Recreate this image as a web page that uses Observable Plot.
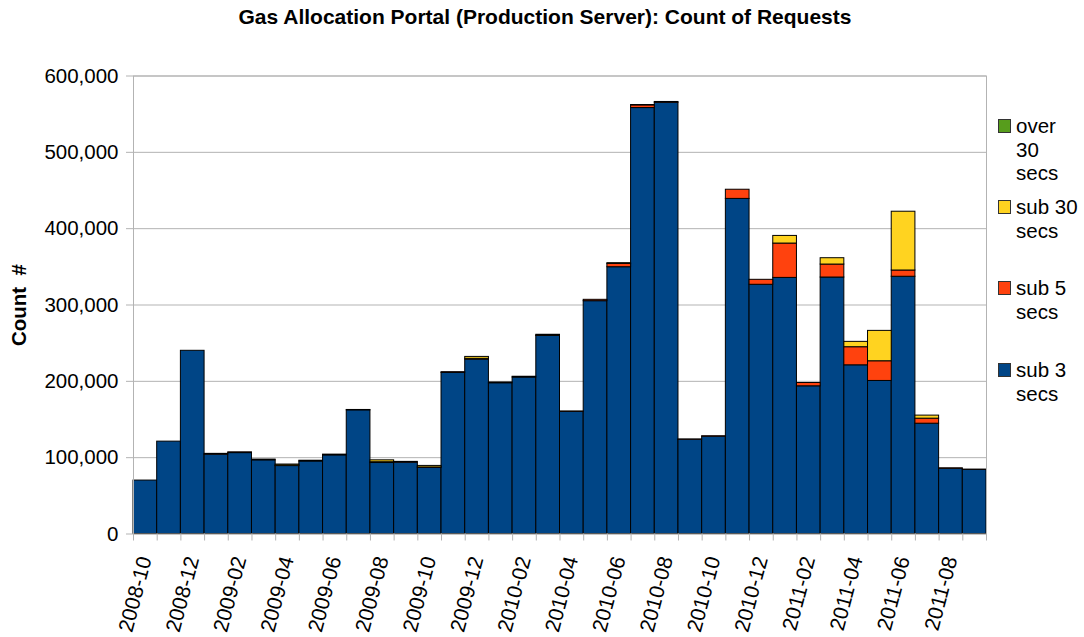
<!DOCTYPE html>
<html>
<head>
<meta charset="utf-8">
<script src="https://cdn.jsdelivr.net/npm/d3@7"></script>
<script src="https://cdn.jsdelivr.net/npm/@observablehq/plot@0.6"></script>
<style>
  body { margin: 0; background: #fff; font-family: "Liberation Sans", Arial, Helvetica, sans-serif; }
  #wrap { position: relative; width: 1084px; height: 637px; overflow: hidden; background: #fff; }
  #title { box-sizing: border-box; height: 36px; padding-top: 6px; padding-left: 6px; font-size: 21px; line-height: 21px; font-weight: bold; text-align: center; color: #000; white-space: nowrap; }
  #chart svg { display: block; }
  .lg { position: absolute; font-size: 20.5px; line-height: 23.5px; color: #000; }
  .sw { position: absolute; width: 11px; height: 12px; border: 1px solid #333; }
</style>
</head>
<body>
<div id="wrap">
  <div id="title">Gas Allocation Portal (Production Server): Count of Requests</div>
  <div id="chart"></div>
</div>
<script>
const months = [
  "2008-10","2008-11","2008-12",
  "2009-01","2009-02","2009-03","2009-04","2009-05","2009-06","2009-07","2009-08","2009-09","2009-10","2009-11","2009-12",
  "2010-01","2010-02","2010-03","2010-04","2010-05","2010-06","2010-07","2010-08","2010-09","2010-10","2010-11","2010-12",
  "2011-01","2011-02","2011-03","2011-04","2011-05","2011-06","2011-07","2011-08","2011-09"
];
const series = ["sub 3 secs", "sub 5 secs", "sub 30 secs", "over 30 secs"];
const colors = ["#004586", "#ff420e", "#ffd320", "#579d1c"];

const sub3 = [70000, 121000, 240000, 104000, 106000, 96500, 89000, 95000, 103000, 162000, 93000, 93500, 86700, 211000, 228500,
  197500, 205000, 259500, 160000, 305000, 349500, 558000, 565000, 123500, 127500, 439000, 326500,
  335500, 193500, 336000, 221000, 200500, 337000, 144500, 85500, 84000];
const sub5 = [0, 0, 0, 1000, 1000, 1000, 500, 1000, 1000, 500, 1000, 1000, 500, 1000, 1000,
  1000, 1000, 500, 500, 1800, 4300, 3500, 1000, 300, 500, 12000, 6500,
  45000, 4300, 17000, 23700, 25800, 8200, 6600, 500, 300];
const sub30 = [0, 0, 0, 0, 0, 0, 1500, 0, 0, 0, 2500, 0, 2000, 0, 2500,
  0, 0, 1000, 0, 0, 1000, 500, 0, 0, 0, 0, 0,
  10000, 0, 8300, 7000, 39800, 77000, 4000, 0, 0];
const over30 = [0, 0, 0, 0, 0, 0, 0, 0, 0, 0, 0, 0, 0, 0, 0,
  0, 0, 0, 0, 0, 0, 0, 0, 0, 0, 0, 0,
  0, 0, 0, 0, 0, 0, 0, 0, 0];
const yTicks = [0, 100000, 200000, 300000, 400000, 500000, 600000];
const yLabel = "Count\u00a0 #";
const legendOrder = ["over 30 secs", "sub 30 secs", "sub 5 secs", "sub 3 secs"];
const legendLines = [["over", "30", "secs"], ["sub 30", "secs"], ["sub 5", "secs"], ["sub 3", "secs"]];

const seriesValues = [sub3, sub5, sub30, over30];
const rows = series.flatMap((s, k) => months.map((m, i) => ({month: m, series: s, value: seriesValues[k][i]})))
  .filter(d => d.value > 0);
const labelMonths = months.filter((d, i) => i % 2 === 0);

const W = 1084, H = 601, ML = 133, MR = 98, MT = 39.5, MB = 103.5;
const bw = (W - ML - MR) / months.length;
const grid = "#b3b3b3";

const chart = Plot.plot({
  width: W, height: H,
  marginLeft: ML, marginRight: MR, marginTop: MT, marginBottom: MB,
  style: {fontFamily: "'Liberation Sans', Arial, Helvetica, sans-serif", fontSize: "20.5px", color: "#000", background: "#fff"},
  x: {type: "band", domain: months, padding: 0, round: false, label: null},
  y: {domain: [0, 600000], label: null},
  color: {domain: series, range: colors},
  marks: [
    Plot.gridY(yTicks, {stroke: grid, strokeOpacity: 1}),
    Plot.barY(rows, {x: "month", y: "value", fill: "series", stroke: "#000", strokeWidth: 1}),
    Plot.frame({stroke: grid}),
    Plot.axisY(yTicks, {tickSize: 7, tickPadding: 8, stroke: grid, strokeOpacity: 1, tickFormat: d3.format(","), label: null}),
    Plot.axisX(months, {tickSize: 7, stroke: grid, strokeOpacity: 1, tickFormat: () => "", dx: -bw / 2, label: null}),
    Plot.axisX([months[months.length - 1]], {tickSize: 7, stroke: grid, strokeOpacity: 1, tickFormat: () => "", dx: bw / 2, label: null}),
    Plot.axisX(labelMonths, {tickSize: 0, tickPadding: 23, tickRotate: -75, textAnchor: "end", lineAnchor: "middle", fontSize: "21px", label: null}),
    Plot.text([yLabel], {frameAnchor: "left", dx: -114, rotate: -90, fontWeight: "bold", textAnchor: "middle", lineAnchor: "middle"})
  ]
});
document.getElementById("chart").appendChild(chart);

// legend (HTML, to the right of the plot)
const wrap = document.getElementById("wrap");
const legendTops = [114, 195, 276, 358];
legendOrder.forEach((s, j) => {
  const c = colors[series.indexOf(s)];
  const sw = document.createElement("div");
  sw.className = "sw";
  sw.style.left = "998px";
  sw.style.top = (legendTops[j] + 5) + "px";
  sw.style.background = c;
  wrap.appendChild(sw);
  const t = document.createElement("div");
  t.className = "lg";
  t.style.left = "1016px";
  t.style.top = legendTops[j] + "px";
  t.innerHTML = legendLines[j].join("<br>");
  wrap.appendChild(t);
});
</script>
</body>
</html>
